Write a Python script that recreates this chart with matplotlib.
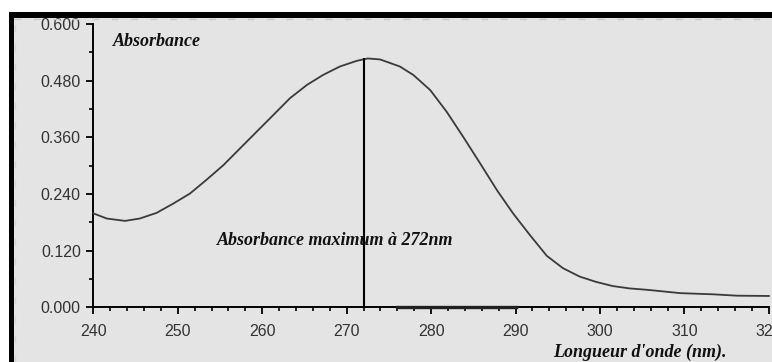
import matplotlib
matplotlib.use("Agg")
import matplotlib.pyplot as plt
from matplotlib.patches import Rectangle
from matplotlib.ticker import MultipleLocator, FormatStrFormatter

# Data
wavelength = [240.0, 241.6, 243.75, 245.5, 247.5, 249.5, 251.45, 253.4, 255.4, 257.4,
              259.35, 261.3, 263.3, 265.3, 267.2, 269.2, 271.2, 272.5, 273.95, 276.3,
              277.9, 279.9, 281.85, 283.8, 285.8, 287.8, 289.7, 291.7, 293.7, 295.6,
              297.6, 299.5, 301.5, 303.5, 305.6, 309.5, 313.4, 316.2, 320.0]
absorbance = [0.199, 0.188, 0.183, 0.188, 0.200, 0.220, 0.241, 0.270, 0.301, 0.337,
              0.372, 0.407, 0.443, 0.471, 0.492, 0.510, 0.522, 0.527, 0.525, 0.510,
              0.492, 0.460, 0.414, 0.361, 0.305, 0.248, 0.199, 0.153, 0.109, 0.083,
              0.065, 0.054, 0.045, 0.040, 0.037, 0.030, 0.0275, 0.0246, 0.024]
peak_wavelength = 272
peak_value = 0.527
baseline_x = [276, 290]
baseline_y = [0.0, 0.0]

xticks = [240, 250, 260, 270, 280, 290, 300, 310, 320]
yticks = [0.000, 0.120, 0.240, 0.360, 0.480, 0.600]

BG = "#e4e4e4"
fig = plt.figure(figsize=(7.72, 3.62), dpi=100, facecolor=BG)

# frame decorations (white strip on top, black bars)
fig.patches.append(Rectangle((0, 1 - 12/362), 1, 12/362, transform=fig.transFigure,
                             facecolor="white", edgecolor="none", zorder=0))
fig.patches.append(Rectangle((0, 1 - 18/362), 1, 6/362, transform=fig.transFigure,
                             facecolor="black", edgecolor="none", zorder=0))
fig.patches.append(Rectangle((0, 0), 9/772, 1 - 12/362, transform=fig.transFigure,
                             facecolor="white", edgecolor="none", zorder=0))
fig.patches.append(Rectangle((9/772, 0), 5/772, 1 - 12/362, transform=fig.transFigure,
                             facecolor="black", edgecolor="none", zorder=0))
fig.lines.append(plt.Line2D([14/772, 1], [1 - 19/362, 1 - 19/362], transform=fig.transFigure,
                            color="#c8c8c8", lw=1, ls=(0, (5, 9))))
fig.lines.append(plt.Line2D([15.5/772, 15.5/772], [0, 1 - 19/362], transform=fig.transFigure,
                            color="#d4d4d4", lw=1, ls=(0, (5, 9))))

ax = fig.add_axes([93.3/772, 1 - 307.3/362, (768.9 - 93.3)/772, (307.3 - 24)/362])
ax.set_facecolor(BG)
ax.set_xlim(240, 320)
ax.set_ylim(0, 0.6)

ax.plot(wavelength, absorbance, color="#3a3a3a", lw=1.3, clip_on=False, zorder=3)
ax.vlines(peak_wavelength, 0, peak_value, color="black", lw=1.5, zorder=3)
ax.plot(baseline_x, baseline_y, color="#202020", lw=2.4, clip_on=False, zorder=4)

for s in ["top", "right"]:
    ax.spines[s].set_visible(False)
for s in ["left", "bottom"]:
    ax.spines[s].set_color("black")
    ax.spines[s].set_linewidth(1.4)

ax.set_xticks(xticks)
ax.set_yticks(yticks)
ax.xaxis.set_minor_locator(MultipleLocator(2))
ax.yaxis.set_minor_locator(MultipleLocator(0.06))
ax.yaxis.set_major_formatter(FormatStrFormatter("%.3f"))
ax.tick_params(axis="both", which="major", direction="out", length=5, width=1.3,
               color="black", labelcolor="#333333", labelsize=11.5)
ax.tick_params(axis="both", which="minor", direction="out", length=3, width=1.2, color="black")
ax.tick_params(axis="x", which="major", pad=7)
ax.tick_params(axis="y", which="major", pad=4)
for lab in ax.get_xticklabels() + ax.get_yticklabels():
    lab.set_fontfamily("Liberation Sans")

tfont = dict(family="Liberation Serif", style="italic", weight="bold", size=13, color="#111111")
ax.text(242.3, 0.562, "Absorbance", ha="left", va="center", **tfont)
ax.text(254.6, 0.1425, "Absorbance maximum à 272nm", ha="left", va="center", **tfont)
ax.text(294.4, -0.0947, "Longueur d'onde (nm).", ha="left", va="center", clip_on=False, **tfont)

fig.savefig("out.png", dpi=100, facecolor=BG)
